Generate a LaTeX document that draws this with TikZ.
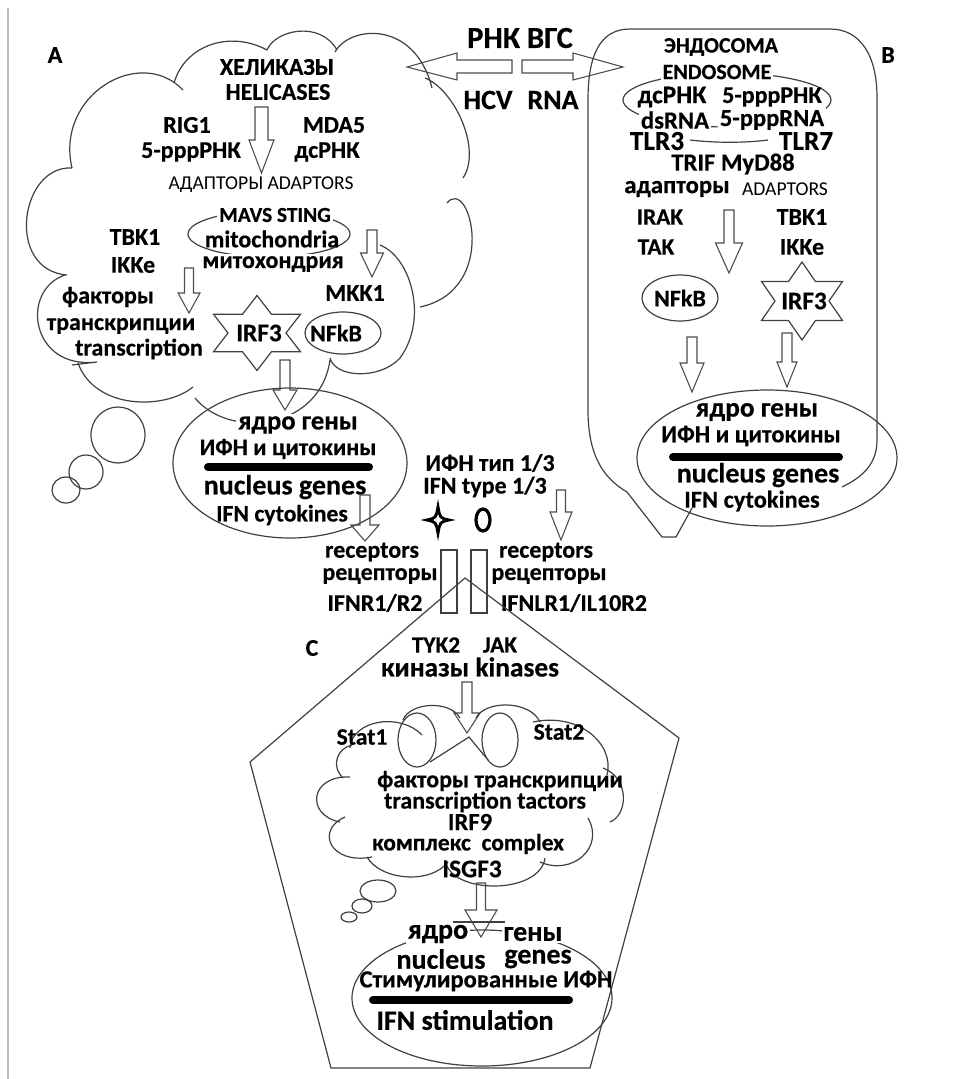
\documentclass[tikz,border=0pt]{standalone}
\usepackage{fontspec}
\setmainfont{Carlito}[BoldFeatures={FakeBold=0.4}]
\newcommand\fs[1]{\fontsize{#1}{#1}\selectfont}
% block arrow pointing down: name, x, ytop, ybase, ytip, shaft half width, head half width
\newcommand\blockdown[7]{%
  \draw[blk] ({#2-#6},#3) -- ({#2+#6},#3) -- ({#2+#6},#4) -- ({#2+#7},#4) -- (#2,#5) coordinate (#1) -- ({#2-#7},#4) -- ({#2-#6},#4) -- cycle;}
% six-pointed star: cx, cy, half width, half height
\newcommand\hexstar[4]{%
  \draw[ln,shift={(#1,#2)}] (0,-#4) -- ({#3/3},{-#4/2}) -- (#3,{-#4/2}) -- ({2*#3/3},0) -- (#3,{#4/2}) -- ({#3/3},{#4/2}) -- (0,#4) -- ({-#3/3},{#4/2}) -- (-#3,{#4/2}) -- ({-2*#3/3},0) -- (-#3,{-#4/2}) -- ({-#3/3},{-#4/2}) -- cycle;}
\begin{document}
\begin{tikzpicture}[x=0.75pt,y=-0.75pt,
  ln/.style={draw=black!75,line width=0.9pt},
  blk/.style={draw=black!70,line width=0.8pt},
  tx/.style={inner sep=0pt,font=\bfseries\fs{#1}},
  tx/.default=18,
  rg/.style={inner sep=0pt,font=\fs{#1}},
  rg/.default=14.7,
  wh/.style={fill=white,inner sep=1.5pt},
  bar/.style={line width=6pt,line cap=round}]
\useasboundingbox (0,0) rectangle (954,1079);
\draw[gray!55,line width=1pt] (8,8) -- (8,1079);

% ---------------- cloud A ----------------
\draw[ln]
  (72,168) .. controls (55,95) and (140,45) .. (183,90)
  (174,83) .. controls (185,45) and (230,30) .. (267,50)
  (267,50) .. controls (275,30) and (320,20) .. (337,50)
  (335,52) .. controls (350,25) and (415,20) .. (432,88)
  (425,78) .. controls (455,90) and (482,150) .. (463,178)
  (447,203) .. controls (470,175) and (500,290) .. (420,307)
  (380,245) .. controls (412,258) and (428,320) .. (400,358)
            .. controls (380,380) and (335,378) .. (330,358)
  (330,360) .. controls (320,430) and (230,440) .. (195,398)
  (193,387) .. controls (165,410) and (95,410) .. (78,363)
  (72,365) -- (97,362) .. controls (30,370) and (20,290) .. (65,275)
  (72,168) .. controls (20,165) and (5,270) .. (67,275);
% thought bubbles A
\draw[ln] (118,435) ellipse [x radius=27, y radius=28];
\draw[ln] (86,472) circle [radius=17];
\draw[ln] (66,490) ellipse [x radius=14, y radius=13];

\node[tx] (labA) at (55,55) {A};
\node[tx] (hel1) at (277,67) {ХЕЛИКАЗЫ};
\node[tx] (hel2) at (278,92) {HELICASES};
\node[tx] (rig) at (187,125) {RIG1};
\node[tx] (mda) at (334,125) {MDA5};
\node[tx] (ppp) at (191,152) {5-pppРНК};
\node[tx] (dsr) at (327,152) {дсРНК};
\blockdown{a1}{261.5}{107}{140}{173}{6.5}{12.5}
\node[rg] (adA) at (261,185) {АДАПТОРЫ ADAPTORS};
\draw[ln] (269,234) ellipse [x radius=81, y radius=23];
\node[tx=16,wh] (mavs) at (275,215) {MAVS STING};
\node[tx=18] (mito) at (272,239) {mitochondria};
\node[tx=18,wh] (mito2) at (273,264) {митохондрия};
\node[tx] (tbkA) at (135,237) {TBK1};
\node[tx] (ikkA) at (133,265) {IKKe};
\blockdown{a2}{189}{268}{293}{313}{4.5}{11}
\blockdown{a3}{372}{230}{253}{277}{5}{11.5}
\node[tx] (mkk) at (355,293) {MKK1};
\node[tx] (fak) at (108,297) {факторы};
\node[tx] (tra) at (121,326) {транскрипции};
\node[tx] (trn) at (139,349) {transcription};
\hexstar{257}{333}{43.5}{37.5}
\node[tx=19] (irfA) at (259,333) {IRF3};
\draw[ln] (343,333) ellipse [x radius=38, y radius=21];
\node[tx] (nfA) at (336,333) {NFkB};
\blockdown{a4}{285}{360}{390}{410}{5}{12}

% nucleus A
\draw[ln] (290,463) ellipse [x radius=117, y radius=75];
\node[tx=20,wh] (nA1) at (298,425) {ядро гены};
\node[tx=18] (nA2) at (288,449) {ИФН и цитокины};
\draw[bar] (208,467) -- (369,467);
\node[tx=21] (nA3) at (285,487) {nucleus genes};
\node[tx=17.8] (nA4) at (282,515) {IFN cytokines};
\blockdown{a5}{365}{495}{525}{541}{5}{14}

% ---------------- HCV RNA ----------------
\node[tx=23] (rnk) at (520,38) {РНК ВГС};
\node[tx=21] (hcv) at (488,100) {HCV};
\node[tx=21] (rna) at (553,100) {RNA};
\draw[blk] (512,60) -- (457,60) -- (457,53) -- (407,67) coordinate (tipL) -- (457,80) -- (457,73) -- (512,73) -- cycle;
\draw[blk] (522,60) -- (573,60) -- (573,53) -- (623,67) coordinate (tipR) -- (573,80) -- (573,73) -- (522,73) -- cycle;

% ---------------- box B ----------------
\draw[ln] (842,487) .. controls (865,476) and (877,462) .. (877,440) -- (877,97)
  .. controls (877,55) and (860,29) .. (830,29) -- (630,29)
  .. controls (600,29) and (588,55) .. (588,100) -- (588,410)
  .. controls (588,455) and (603,478) .. (627,492) -- (662,537) -- (676,537) -- (692,508);
\node[tx] (labB) at (888,55) {B};
\node[tx=16.5] (endo1) at (721,47) {ЭНДОСОМА};
\draw[ln] (727,100) ellipse [x radius=104, y radius=27];
\node[tx=16.4,wh] (endo2) at (717,72) {ENDOSOME};
\node[tx=19] (bds1) at (672,97) {дсРНК};
\node[tx=18] (bpp1) at (772,97) {5-pppРНК};
\node[tx=18.5,wh] (bds2) at (675,120) {dsRNA};
\node[tx=18.4,wh] (bpp2) at (772,120) {5-pppRNA};
\node[tx=20.5] (tlr3) at (657,141) {TLR3};
\node[tx=20.5] (tlr7) at (806,141) {TLR7};
\draw[ln] (690,140) .. controls (715,143) and (745,143) .. (768,140);
\node[tx=18.5] (trif) at (733,164) {TRIF MyD88};
\node[tx=18.5] (adB1) at (677,189) {адапторы};
\node[rg] (adB2) at (785,189) {ADAPTORS};
\node[tx=17.5] (irak) at (660,217) {IRAK};
\node[tx=17.5] (tak) at (656,247) {TAK};
\node[tx] (tbkB) at (802,217) {TBK1};
\node[tx] (ikkB) at (802,247) {IKKe};
\blockdown{b1}{729}{210}{243}{273}{5}{13.5}
\draw[ln] (680,298) ellipse [x radius=38, y radius=23];
\node[tx] (nfB) at (680,298) {NFkB};
\hexstar{802}{301}{40.5}{39}
\node[tx=19] (irfB) at (804,301) {IRF3};
\blockdown{b2}{692}{337}{363}{392}{5}{12}
\blockdown{b3}{787}{333}{362}{387}{5}{10}
% nucleus B
\draw[ln] (767,458) ellipse [x radius=130, y radius=68];
\node[tx=20.5] (nB1) at (757,412) {ядро гены};
\node[tx=18.3] (nB2) at (751,436) {ИФН и цитокины};
\draw[bar] (673,457) -- (839,457);
\node[tx=21] (nB3) at (758,475) {nucleus genes};
\node[tx=18.3] (nB4) at (752,501) {IFN cytokines};

% ---------------- IFN type / receptors ----------------
\node[tx] (ifn1) at (490,463) {ИФН тип 1/3};
\node[tx] (ifn2) at (485,487) {IFN type 1/3};
\draw[line width=2.2pt] (438,507) .. controls (440,518) .. (449,520) .. controls (440,522) .. (438,533) .. controls (436,522) .. (427,520) .. controls (436,518) .. (438,507) -- cycle;
\draw[line width=2.4pt] (483,520) ellipse [x radius=7, y radius=11];
\blockdown{m1}{561}{490}{512}{540}{4.5}{11}
\node[tx] (recL1) at (372,552) {receptors};
\node[tx] (recL2) at (380,576) {рецепторы};
\node[tx] (recL3) at (375,603) {IFNR1/R2};
\node[tx] (recR1) at (546,552) {receptors};
\node[tx] (recR2) at (549,576) {рецепторы};
\node[tx] (recR3) at (574,603) {IFNLR1/IL10R2};
\draw[ln] (441,550) rectangle (457,613);
\draw[ln] (471,550) rectangle (487,613);

% ---------------- pentagon C ----------------
\draw[ln] (465,578) -- (679,738) -- (590,1068) -- (331,1068) -- (250,762) -- cycle;
\node[tx] (labC) at (312,648) {C};
\node[tx=17.5] (tyk) at (436,645) {TYK2};
\node[tx=17.5] (jak) at (500,645) {JAK};
\node[tx=20.5] (kin) at (470,667) {киназы kinases};
\blockdown{c1}{467}{682}{713}{733}{5}{13}

% cloud C
\draw[ln]
  (350,748) .. controls (352,720) and (400,712) .. (422,735)
  (403,720) .. controls (410,702) and (450,700) .. (460,718)
  (476,718) .. controls (485,700) and (530,700) .. (540,722)
  (533,722) .. controls (580,712) and (615,745) .. (607,775)
  (603,768) .. controls (630,778) and (628,815) .. (610,822)
  (588,818) .. controls (605,848) and (572,876) .. (540,862)
  (545,858) .. controls (540,895) and (450,895) .. (445,860)
  (448,862) .. controls (430,885) and (380,880) .. (367,857)
  (372,857) .. controls (330,865) and (315,830) .. (345,817)
  (340,822) .. controls (305,815) and (310,775) .. (350,777)
  (343,778) .. controls (330,765) and (338,748) .. (352,745);
\draw[ln] (378,891) ellipse [x radius=18, y radius=11];
\draw[ln] (362,906) ellipse [x radius=10, y radius=7];
\draw[ln] (349,917) ellipse [x radius=8, y radius=5];
\draw[ln] (417,740) ellipse [x radius=19, y radius=27];
\draw[ln] (500,740) ellipse [x radius=18, y radius=27];
\draw[ln] (430,762) -- (469,737) -- (488,760);
\node[tx=17.7] (st1) at (362,737) {Stat1};
\node[tx=17.7] (st2) at (559,732) {Stat2};
\node[tx] (ftr) at (500,781) {факторы транскрипции};
\node[tx] (ttr) at (485,802) {transcription tactors};
\node[tx=18.5] (irf9) at (470,822) {IRF9};
\node[tx=17.7] (kom) at (468,844) {комплекс\ \ complex};
\node[tx=19] (isg) at (472,869) {ISGF3};
\blockdown{c2}{481}{883}{910}{937}{4.5}{16}
\draw[ln] (453,922) -- (505,922);

% nucleus C
\draw[ln] (482,998) ellipse [x radius=130, y radius=68];
\node[tx=21,wh] (nC1) at (438,934) {ядро};
\node[tx=21,wh] (nC2) at (533,934) {гены};
\node[tx=21] (nC3) at (441,959) {nucleus};
\node[tx=21] (nC4) at (538,959) {genes};
\node[tx=18.4] (nC5) at (486,981) {Стимулированные ИФН};
\draw[bar] (373,1000) -- (569,1000);
\node[tx=21] (nC6) at (465,1020) {IFN stimulation};
\end{tikzpicture}
\end{document}
